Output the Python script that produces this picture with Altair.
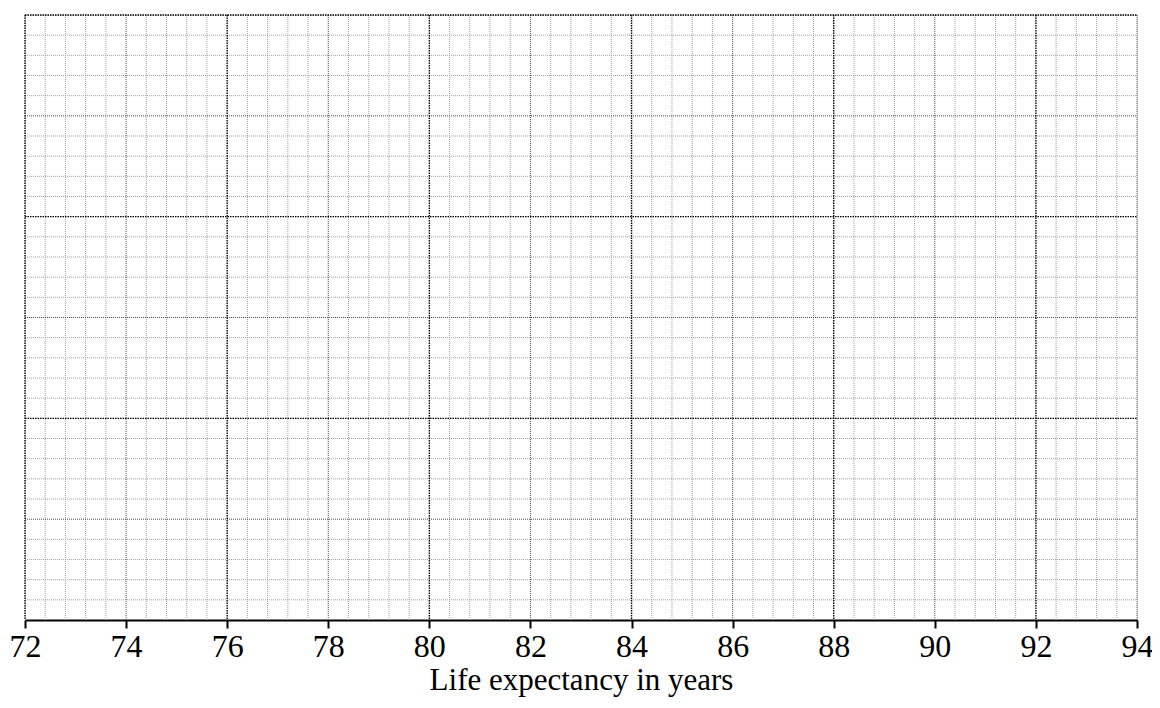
import altair as alt
import pandas as pd

# axis
x_min, x_max = 72, 94
x_ticks = [72, 74, 76, 78, 80, 82, 84, 86, 88, 90, 92, 94]
y_min, y_max = 0, 30
x_title = "Life expectancy in years"

# grid-line positions (graph paper)
minor_step = 0.4
n_x = int(round((x_max - x_min) / minor_step))
x_lines = [round(x_min + i * minor_step, 2) for i in range(n_x + 1)]
y_lines = list(range(y_min, y_max + 1))

def level(i):
    if i % 10 == 0:
        return "heavy"
    if i % 5 == 0:
        return "medium"
    return "light"

vdf = pd.DataFrame({"x": x_lines, "level": [level(i) for i in range(len(x_lines))]})
hdf = pd.DataFrame({"y": y_lines, "level": [level(i) for i in range(len(y_lines))]})

xs = alt.Scale(domain=[x_min, x_max], nice=False, zero=False)
ys = alt.Scale(domain=[y_min, y_max], nice=False, zero=False)

x_axis = alt.Axis(values=x_ticks, format="d", domainColor="#000", domainWidth=2.2,
                  tickColor="#000", tickWidth=2, tickSize=8,
                  labelFont="Liberation Serif", labelFontSize=32, labelColor="#000",
                  labelPadding=3, labelFlush=False, labelOverlap=False,
                  titleFont="Liberation Serif", titleFontSize=31, titleFontWeight="normal",
                  titleColor="#000", titlePadding=3, grid=False)

styles = {
    "light": dict(color="#a0a0a0", strokeWidth=1, strokeDash=[1, 1]),
    "medium": dict(color="#4a4a4a", strokeWidth=1, strokeDash=[1, 1]),
    "heavy": dict(color="#000000", strokeWidth=1.4, strokeDash=[1.5, 1]),
}

layers = []
for lv in ["light", "medium", "heavy"]:
    st = styles[lv]
    v = alt.Chart(vdf[vdf.level == lv]).mark_rule(**st).encode(
        x=alt.X("x:Q", scale=xs, axis=x_axis, title=x_title),
        y=alt.value(0),
        y2=alt.value(605),
    )
    h = alt.Chart(hdf[(hdf.level == lv) & (hdf.y > y_min)]).mark_rule(**st).encode(
        y=alt.Y("y:Q", scale=ys, axis=None),
        x=alt.value(0),
        x2=alt.value(1112),
    )
    layers += [h, v]

chart = alt.layer(*layers).properties(
    width=1112, height=605,
    autosize=alt.AutoSizeParams(type="none"),
    padding={"left": 17, "top": 7, "right": 15, "bottom": 86},
).configure_view(stroke=None).configure(background="white")

chart.save("out.html", embed_options={"renderer": "svg", "actions": False})
